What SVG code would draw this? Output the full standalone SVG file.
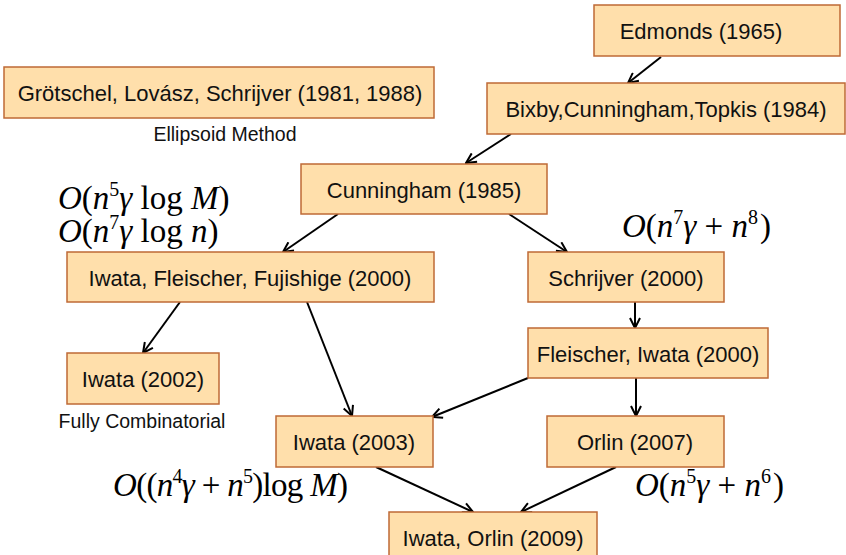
<svg xmlns="http://www.w3.org/2000/svg" width="846" height="555" viewBox="0 0 846 555">
<style>
.box{fill:#FFDFAB;stroke:#BF6A36;stroke-width:1.5}
.lbl{font-family:"Liberation Sans",Arial,sans-serif;font-size:22px;fill:#111;text-anchor:middle}
.note{font-family:"Liberation Sans",Arial,sans-serif;font-size:19.5px;fill:#111;text-anchor:middle}
.math{font-family:"Liberation Serif","Times New Roman",serif;font-size:33px;fill:#000}
.it{font-style:italic}
.sup{font-size:20px}
.edge{stroke:#000;stroke-width:2;fill:none;marker-end:url(#ah)}
</style>
<defs>
<marker id="ah" viewBox="0 0 12 12" refX="11" refY="6" markerWidth="12" markerHeight="12" markerUnits="userSpaceOnUse" orient="auto">
<path d="M1,1 L11,6 L1,11" fill="none" stroke="#000" stroke-width="2"/>
</marker>
</defs>
<rect width="846" height="555" fill="#fff"/>
<g id="edges">
<line class="edge" x1="661" y1="57" x2="628" y2="83"/>
<line class="edge" x1="511" y1="134" x2="466" y2="163"/>
<line class="edge" x1="338" y1="214" x2="283" y2="252"/>
<line class="edge" x1="509" y1="214" x2="567" y2="252"/>
<line class="edge" x1="180" y1="302" x2="143" y2="353"/>
<line class="edge" x1="307" y1="302" x2="352" y2="416"/>
<line class="edge" x1="635" y1="302" x2="635" y2="328"/>
<line class="edge" x1="528" y1="378" x2="432" y2="417"/>
<line class="edge" x1="636" y1="378" x2="636" y2="416"/>
<line class="edge" x1="376" y1="467" x2="473" y2="512"/>
<line class="edge" x1="616" y1="467" x2="521" y2="512"/>
</g>
<g id="edmonds"><rect class="box" x="594" y="5" width="246" height="51"/><text class="lbl" x="701" y="39">Edmonds (1965)</text></g>
<g id="bixby"><rect class="box" x="487" y="83" width="358" height="51"/><text class="lbl" x="666" y="117">Bixby,Cunningham,Topkis (1984)</text></g>
<g id="grotschel"><rect class="box" x="4" y="67" width="430" height="51"/><text class="lbl" x="220" y="101">Grötschel, Lovász, Schrijver (1981, 1988)</text></g>
<text class="note" x="225" y="141">Ellipsoid Method</text>
<g id="cunningham"><rect class="box" x="301" y="164" width="246" height="50"/><text class="lbl" x="424" y="198">Cunningham (1985)</text></g>
<g id="iff"><rect class="box" x="67" y="252" width="367" height="50"/><text class="lbl" x="250" y="286">Iwata, Fleischer, Fujishige (2000)</text></g>
<g id="schrijver"><rect class="box" x="528" y="252" width="196" height="50"/><text class="lbl" x="626" y="286">Schrijver (2000)</text></g>
<g id="fleischer"><rect class="box" x="528" y="328" width="240" height="50"/><text class="lbl" x="648" y="362">Fleischer, Iwata (2000)</text></g>
<g id="iwata2002"><rect class="box" x="67" y="353" width="152" height="51"/><text class="lbl" x="143" y="387">Iwata (2002)</text></g>
<text class="note" x="142" y="428">Fully Combinatorial</text>
<g id="iwata2003"><rect class="box" x="276" y="416" width="157" height="51"/><text class="lbl" x="354" y="450">Iwata (2003)</text></g>
<g id="orlin"><rect class="box" x="547" y="416" width="177" height="51"/><text class="lbl" x="635" y="450">Orlin (2007)</text></g>
<g id="iwataorlin"><rect class="box" x="389" y="512" width="208" height="50"/><text class="lbl" x="493" y="546">Iwata, Orlin (2009)</text></g>
<g id="formulas">
<text class="math" x="58" y="209"><tspan class="it">O</tspan>(<tspan class="it">n</tspan><tspan class="sup" dy="-13">5</tspan><tspan class="it" dy="13">γ</tspan> log <tspan class="it">M</tspan>)</text>
<text class="math" x="58" y="242"><tspan class="it">O</tspan>(<tspan class="it">n</tspan><tspan class="sup" dy="-13">7</tspan><tspan class="it" dy="13">γ</tspan> log <tspan class="it">n</tspan>)</text>
<text class="math" x="622" y="237"><tspan class="it">O</tspan>(<tspan class="it">n</tspan><tspan class="sup" dy="-13">7</tspan><tspan class="it" dy="13">γ</tspan> + <tspan class="it">n</tspan><tspan class="sup" dy="-13">8</tspan><tspan dy="13" dx="2">)</tspan></text>
<text class="math" x="113" y="496" textLength="235" lengthAdjust="spacing"><tspan class="it">O</tspan>((<tspan class="it">n</tspan><tspan class="sup" dy="-13">4</tspan><tspan class="it" dy="13">γ</tspan> + <tspan class="it">n</tspan><tspan class="sup" dy="-13">5</tspan><tspan dy="13">)</tspan><tspan>log </tspan><tspan class="it">M</tspan>)</text>
<text class="math" x="635" y="496"><tspan class="it">O</tspan>(<tspan class="it">n</tspan><tspan class="sup" dy="-13">5</tspan><tspan class="it" dy="13">γ</tspan> + <tspan class="it">n</tspan><tspan class="sup" dy="-13">6</tspan><tspan dy="13" dx="2">)</tspan></text>
</g>
</svg>
